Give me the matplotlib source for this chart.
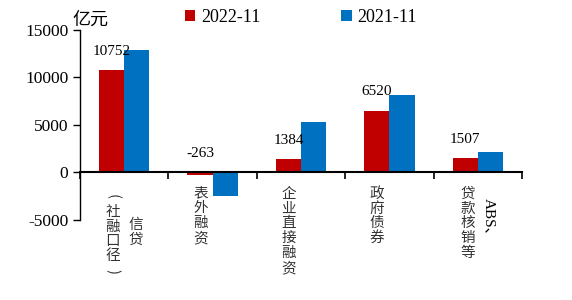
import numpy as np
import matplotlib
matplotlib.use('Agg')
import matplotlib.pyplot as plt
from matplotlib.transforms import blended_transform_factory

plt.rcParams['font.family'] = ['Liberation Serif', 'Noto Sans CJK SC']
plt.rcParams['axes.unicode_minus'] = False

# data (亿元)
categories = ['信贷（社融口径）', '表外融资', '企业直接融资', '政府债券', 'ABS、贷款核销等']
series_names = ['2022-11', '2021-11']
values_2022 = [10752, -263, 1384, 6520, 1507]
values_2021 = [12850, -2500, 5300, 8150, 2150]
colors = ['#C00000', '#0070C0']

fig = plt.figure(figsize=(5.72, 3.0), dpi=100)
ax = fig.add_axes([0.14, 0.267, 0.7727, 0.633])

x = np.arange(len(categories))
width = 0.285
ax.bar(x - width / 2, values_2022, width, color=colors[0], label=series_names[0])
ax.bar(x + width / 2, values_2021, width, color=colors[1], label=series_names[1])

ax.set_xlim(-0.5, len(categories) - 0.5)
ax.set_ylim(-5000, 15000)
ax.set_yticks([-5000, 0, 5000, 10000, 15000])
ax.tick_params(axis='y', labelsize=12.5, direction='out', length=5, width=1)

# x axis sits on zero, ticks at category boundaries pointing down
ax.spines['top'].set_visible(False)
ax.spines['right'].set_visible(False)
ax.spines['bottom'].set_position(('data', 0))
ax.spines['bottom'].set_linewidth(1.5)
ax.spines['left'].set_linewidth(1)
ax.set_xticks(np.arange(len(categories) + 1) - 0.5)
ax.set_xticklabels([])
ax.tick_params(axis='x', direction='out', length=5, width=1.2)

# value labels on the 2022 bars
for xi, v in zip(x, values_2022):
    ax.annotate(str(v), (xi - width / 2, max(v, 0)), xytext=(0, 9),
                textcoords='offset points', ha='center', va='bottom', fontsize=11)

# vertical category labels
tr = blended_transform_factory(ax.transData, fig.transFigure)
cjk = ['Noto Sans CJK SC']
def vtext(xpos, ypos, s, va='top'):
    ax.text(xpos, ypos, '\n'.join(s), transform=tr, ha='center', va=va,
            fontsize=10.5, linespacing=1.08, family=cjk, color='#333333')

vtext(0.13, 0.225, '信贷', va='center')
vtext(-0.13, 0.22, '社融口径', va='center')
ax.text(-0.13, 0.345, '(', transform=tr, ha='center', va='center', rotation=-90,
        fontsize=10.5, family=cjk, color='#333333')
ax.text(-0.13, 0.095, ')', transform=tr, ha='center', va='center', rotation=-90,
        fontsize=10.5, family=cjk, color='#333333')
vtext(1 - 0.14, 0.378, categories[1])
vtext(2 - 0.14, 0.378, categories[2])
vtext(3 - 0.14, 0.378, categories[3])
vtext(4 - 0.11, 0.378, '贷款核销等')
ax.text(4 + 0.13, 0.34, 'ABS、', transform=tr, ha='center', va='top', rotation=-90,
        fontsize=11, family=['Liberation Serif', 'Noto Sans CJK SC'])

fig.text(0.127, 0.935, '亿元', fontsize=13, family=cjk, va='center')

ax.legend(loc='upper left', bbox_to_anchor=(0.22, 1.15), ncol=2, frameon=False,
          fontsize=13, handlelength=0.6, handleheight=0.6, handletextpad=0.3,
          columnspacing=4.5, borderaxespad=0)

fig.savefig('out.png', dpi=100)
